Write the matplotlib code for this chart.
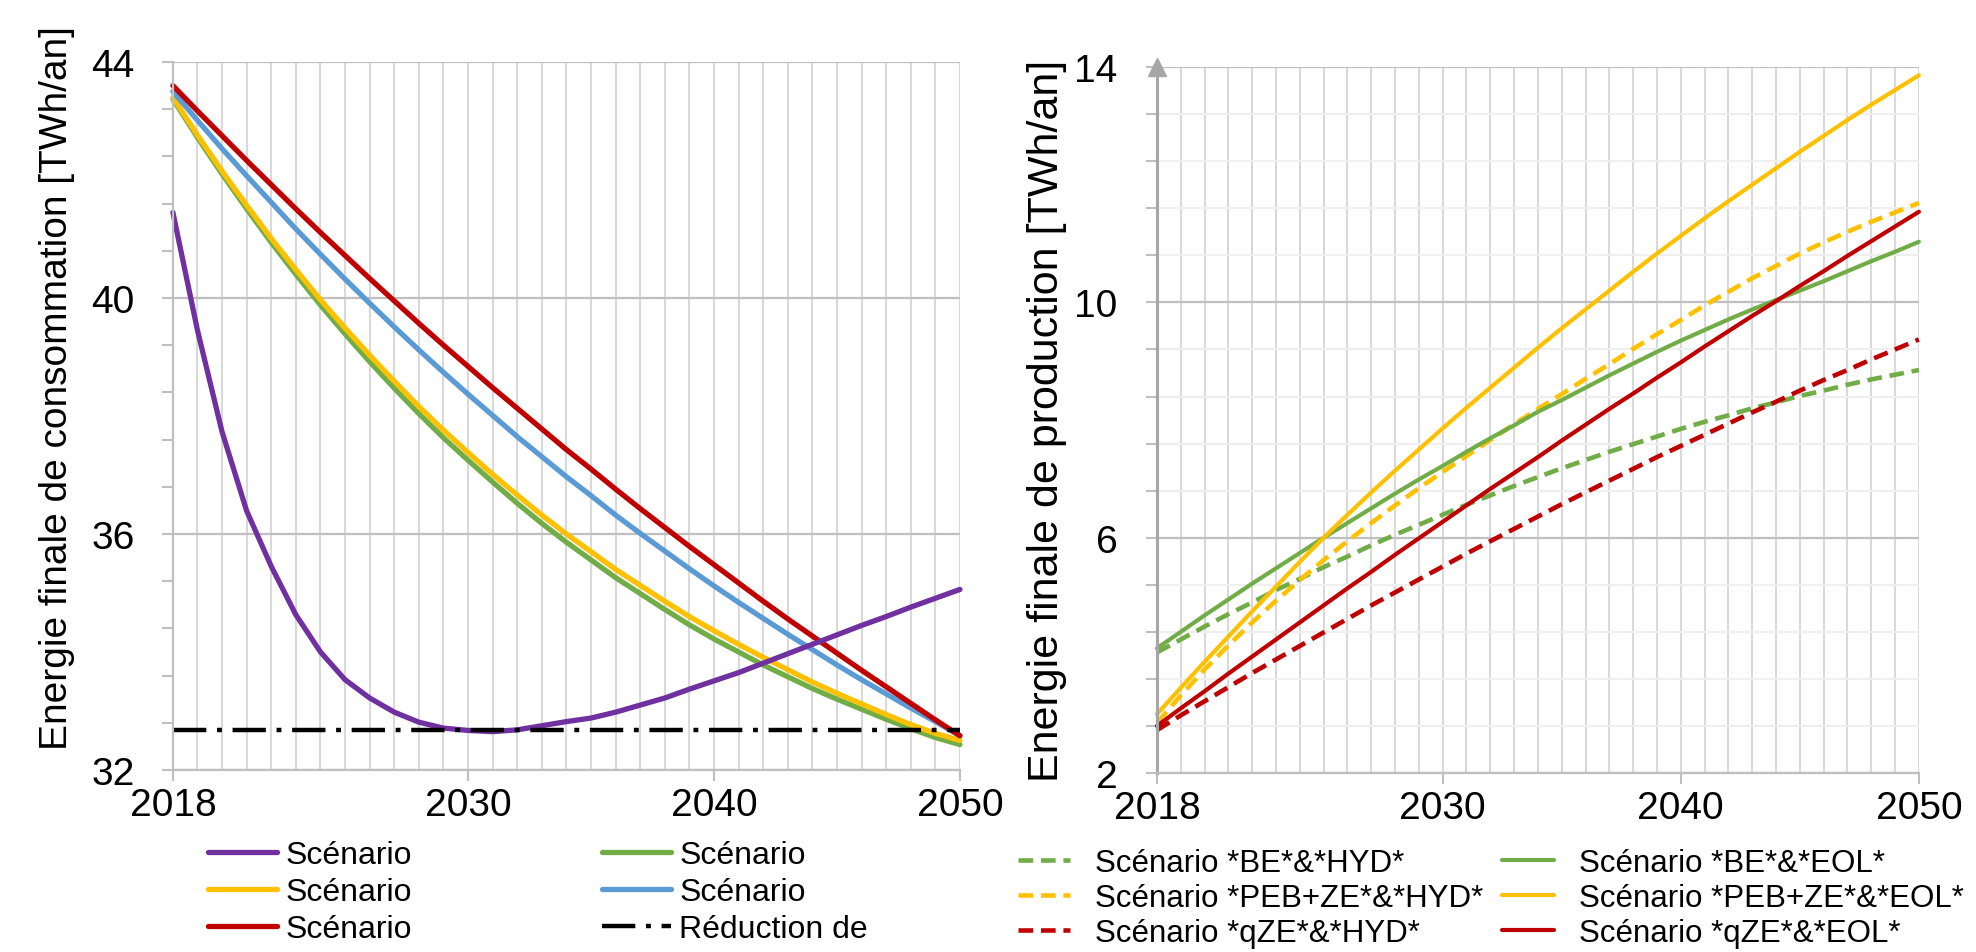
# -*- coding: utf-8 -*-
# consommation / production finale 2018-2050, deux graphes cote a cote
import numpy as np
import matplotlib
matplotlib.use('Agg')
import matplotlib.pyplot as plt
from matplotlib.ticker import FixedLocator, MultipleLocator

plt.rcParams['font.family'] = ['Liberation Sans', 'DejaVu Sans']

years = np.arange(2018, 2051)

######## graphe de gauche : consommation [TWh/an]
conso_violet = [41.45, 39.45, 37.73, 36.39, 35.45, 34.63, 34.00, 33.53, 33.22, 32.98, 32.81,
                32.71, 32.67, 32.65, 32.68, 32.75, 32.82, 32.88, 32.98, 33.10, 33.22, 33.37,
                33.51, 33.65, 33.81, 33.97, 34.13, 34.29, 34.45, 34.60, 34.76, 34.91, 35.06]
conso_jaune = [43.40, 42.76, 42.15, 41.57, 41.01, 40.48, 39.97, 39.49, 39.03, 38.59, 38.16,
               37.76, 37.38, 37.01, 36.66, 36.32, 36.00, 35.70, 35.40, 35.13, 34.86, 34.60,
               34.36, 34.13, 33.91, 33.70, 33.49, 33.30, 33.12, 32.94, 32.77, 32.62, 32.50]
conso_vert = [43.37, 42.72, 42.10, 41.51, 40.94, 40.40, 39.88, 39.39, 38.92, 38.47, 38.04,
              37.63, 37.25, 36.88, 36.52, 36.18, 35.86, 35.56, 35.26, 34.99, 34.72, 34.46,
              34.22, 34.00, 33.78, 33.58, 33.38, 33.20, 33.03, 32.86, 32.70, 32.55, 32.43]
conso_bleu = [43.50, 43.01, 42.53, 42.07, 41.62, 41.17, 40.74, 40.32, 39.91, 39.51, 39.12,
              38.74, 38.37, 38.01, 37.65, 37.31, 36.97, 36.65, 36.32, 36.01, 35.71, 35.41,
              35.12, 34.84, 34.57, 34.30, 34.04, 33.78, 33.53, 33.29, 33.05, 32.82, 32.58]
conso_rouge = [43.60, 43.17, 42.75, 42.33, 41.92, 41.51, 41.11, 40.72, 40.33, 39.95, 39.57,
               39.20, 38.84, 38.48, 38.13, 37.78, 37.43, 37.10, 36.76, 36.43, 36.11, 35.79,
               35.48, 35.17, 34.86, 34.56, 34.27, 33.98, 33.69, 33.41, 33.13, 32.85, 32.58]
reduction = 32.68

######## graphe de droite : production [TWh/an]
prod_be_hyd = [4.05, 4.27, 4.49, 4.70, 4.90, 5.11, 5.30, 5.50, 5.68, 5.87, 6.05,
               6.22, 6.39, 6.56, 6.72, 6.88, 7.03, 7.18, 7.32, 7.46, 7.59, 7.72,
               7.85, 7.97, 8.08, 8.20, 8.30, 8.41, 8.50, 8.60, 8.69, 8.77, 8.85]
prod_peb_hyd = [2.85, 3.32, 3.76, 4.17, 4.56, 4.93, 5.28, 5.62, 5.94, 6.25, 6.55,
                6.84, 7.12, 7.39, 7.66, 7.93, 8.19, 8.44, 8.70, 8.95, 9.21, 9.46,
                9.70, 9.95, 10.18, 10.41, 10.62, 10.83, 11.02, 11.20, 11.37, 11.53, 11.69]
prod_qze_hyd = [2.73, 2.98, 3.22, 3.46, 3.70, 3.93, 4.16, 4.39, 4.62, 4.85, 5.07,
                5.29, 5.51, 5.73, 5.94, 6.15, 6.36, 6.57, 6.77, 6.97, 7.17, 7.37,
                7.56, 7.75, 7.94, 8.13, 8.31, 8.50, 8.68, 8.85, 9.03, 9.20, 9.37]
prod_be_eol = [4.12, 4.40, 4.68, 4.95, 5.22, 5.48, 5.74, 6.00, 6.25, 6.50, 6.75,
               6.99, 7.22, 7.46, 7.69, 7.91, 8.14, 8.34, 8.55, 8.76, 8.96, 9.16,
               9.35, 9.53, 9.71, 9.88, 10.04, 10.20, 10.36, 10.53, 10.70, 10.86, 11.03]
prod_peb_eol = [3.00, 3.45, 3.89, 4.32, 4.75, 5.17, 5.59, 6.00, 6.39, 6.77, 7.14,
                7.50, 7.86, 8.21, 8.55, 8.89, 9.23, 9.56, 9.88, 10.20, 10.52, 10.83,
                11.13, 11.43, 11.72, 12.00, 12.28, 12.56, 12.83, 13.10, 13.36, 13.61, 13.86]
prod_qze_eol = [2.80, 3.10, 3.39, 3.69, 3.98, 4.27, 4.56, 4.85, 5.14, 5.42, 5.71,
                5.99, 6.27, 6.55, 6.83, 7.10, 7.37, 7.65, 7.92, 8.19, 8.45, 8.72,
                8.98, 9.25, 9.51, 9.77, 10.02, 10.28, 10.53, 10.79, 11.04, 11.29, 11.54]

x_ticks = [2018, 2030, 2040, 2050]
y_ticks_conso = [32, 36, 40, 44]
y_ticks_prod = [2, 6, 10, 14]

VIOLET = '#7030A0'
JAUNE = '#FFC000'
ROUGE = '#C00000'
VERT = '#70AD47'
BLEU = '#5B9BD5'
GRIS = '#BFBFBF'

fig = plt.figure(figsize=(19.76, 9.53), dpi=100)
ax1 = fig.add_axes([0.0875, 0.191, 0.3983, 0.7429])
ax2 = fig.add_axes([0.5855, 0.1878, 0.3856, 0.7408])


def style_axes(ax, yticks, minor_grid, pad_y):
    ax.set_xlim(x_ticks[0], x_ticks[-1])
    ax.set_ylim(yticks[0], yticks[-1])
    ax.set_xticks(x_ticks)
    ax.xaxis.set_minor_locator(MultipleLocator(1))
    ax.set_yticks(yticks)
    ax.yaxis.set_minor_locator(FixedLocator(np.arange(yticks[0], yticks[-1] + 0.01, 0.8)))
    ax.grid(which='both', axis='x', color='#D9D9D9', lw=1.5)
    ax.grid(which='major', axis='y', color=GRIS, lw=1.6)
    if minor_grid:
        ax.grid(which='minor', axis='y', color='#EFEFEF', lw=1.5)
    for s in ['top', 'right']:
        ax.spines[s].set_visible(False)
    ax.spines['bottom'].set_color(GRIS)
    ax.spines['bottom'].set_linewidth(1.6)
    ax.spines['left'].set_color(GRIS)
    ax.spines['left'].set_linewidth(1.6)
    ax.tick_params(axis='x', which='major', direction='out', length=8, width=1.5,
                   color=GRIS, pad=4, labelsize=28)
    ax.tick_params(axis='x', which='minor', length=0)
    ax.tick_params(axis='y', which='both', direction='out', length=8, width=1.5,
                   color=GRIS, pad=pad_y, labelsize=28)


style_axes(ax1, y_ticks_conso, False, 19.5)
style_axes(ax2, y_ticks_prod, True, 20.5)

######## gauche
kw = dict(lw=3.8, clip_on=False, solid_capstyle='round')
l_vert, = ax1.plot(years, conso_vert, color=VERT, **kw)
l_jaune, = ax1.plot(years, conso_jaune, color=JAUNE, **kw)
l_bleu, = ax1.plot(years, conso_bleu, color=BLEU, **kw)
l_rouge, = ax1.plot(years, conso_rouge, color=ROUGE, **kw)
l_red = ax1.axhline(reduction, color='black', lw=3.2, dashes=(7.5, 2.4, 1.1, 2.4), zorder=2.5)
l_violet, = ax1.plot(years, conso_violet, color=VIOLET, **kw)

ax1.set_ylabel('Energie finale de consommation [TWh/an]', fontsize=28)
ax1.yaxis.set_label_coords(-0.1245, 0.541)

leg_kw = dict(loc='upper left', bbox_transform=fig.transFigure, frameon=False,
              fontsize=23, borderpad=0, borderaxespad=0, labelspacing=0.22,
              handlelength=2.16, handletextpad=0.25)
leg1 = ax1.legend([l_violet, l_jaune, l_rouge], ['Scénario'] * 3,
                  bbox_to_anchor=(0.1053, 0.1175), **leg_kw)
ax1.add_artist(leg1)
ax1.legend([l_vert, l_bleu, l_red], ['Scénario', 'Scénario', 'Réduction de'],
           bbox_to_anchor=(0.3047, 0.1175), **leg_kw)

######## droite
dkw = dict(lw=3.3, clip_on=False, dashes=(3.2, 1.7))
skw = dict(lw=3.0, clip_on=False, solid_capstyle='round')
d_vert, = ax2.plot(years, prod_be_hyd, color=VERT, **dkw)
d_jaune, = ax2.plot(years, prod_peb_hyd, color=JAUNE, **dkw)
d_rouge, = ax2.plot(years, prod_qze_hyd, color=ROUGE, **dkw)
s_vert, = ax2.plot(years, prod_be_eol, color=VERT, **skw)
s_jaune, = ax2.plot(years, prod_peb_eol, color=JAUNE, **skw)
s_rouge, = ax2.plot(years, prod_qze_eol, color=ROUGE, **skw)

ax2.spines['left'].set_color('#A6A6A6')
ax2.spines['left'].set_linewidth(2.2)
# fleche en haut de l'axe vertical
ax2.plot(0, 1, marker='^', ms=13, color='#A6A6A6', transform=ax2.transAxes,
         clip_on=False, zorder=5)

ax2.set_ylabel('Energie finale de production [TWh/an]', fontsize=31)
ax2.yaxis.set_label_coords(-0.118, 0.5)

leg_kw2 = dict(leg_kw, fontsize=22.5, labelspacing=0.17, handlelength=1.66, handletextpad=0.8)
leg2 = ax2.legend([d_vert, d_jaune, d_rouge],
                  ['Scénario *BE*&*HYD*', 'Scénario *PEB+ZE*&*HYD*', 'Scénario *qZE*&*HYD*'],
                  bbox_to_anchor=(0.5152, 0.1095), **leg_kw2)
ax2.add_artist(leg2)
ax2.legend([s_vert, s_jaune, s_rouge],
           ['Scénario *BE*&*EOL*', 'Scénario *PEB+ZE*&*EOL*', 'Scénario *qZE*&*EOL*'],
           bbox_to_anchor=(0.7601, 0.1095), **leg_kw2)

fig.savefig('out.png', dpi=100)
